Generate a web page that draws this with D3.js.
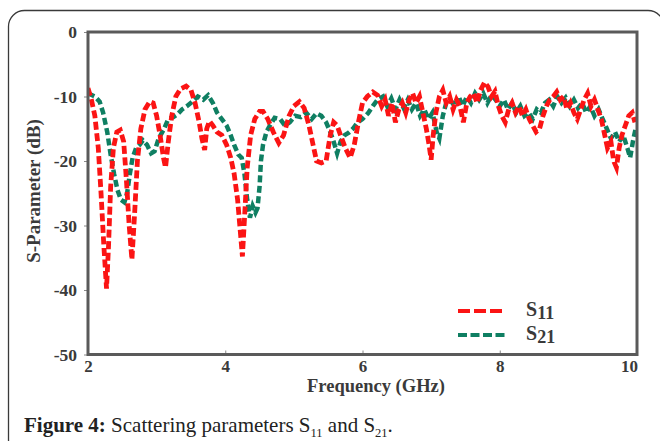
<!DOCTYPE html>
<html><head><meta charset="utf-8">
<script src="https://cdn.jsdelivr.net/npm/d3@7"></script>
<style>body{margin:0;background:#fff}svg{display:block}</style>
</head><body>
<svg id="c" width="660" height="441"></svg>
<script>
const xTicks = [2, 4, 6, 8, 10];
const yTicks = [0, -10, -20, -30, -40, -50];
const seriesNames = ["S11", "S21"];

const s11Freq = [2.00,2.05,2.10,2.15,2.19,2.23,2.27,2.30,2.33,2.37,2.42,2.47,2.52,2.56,2.60,2.64,2.68,2.72,2.77,2.83,2.90,2.95,3.00,3.05,3.10,3.13,3.17,3.22,3.28,3.35,3.43,3.50,3.56,3.62,3.66,3.70,3.73,3.77,3.82,3.88,3.95,4.02,4.08,4.13,4.18,4.22,4.25,4.28,4.32,4.37,4.43,4.50,4.55,4.62,4.70,4.78,4.85,4.93,5.00,5.08,5.15,5.22,5.28,5.33,5.40,5.47,5.53,5.58,5.63,5.68,5.75,5.82,5.88,5.94,6.00,6.07,6.15,6.22,6.28,6.33,6.38,6.43,6.48,6.53,6.58,6.63,6.68,6.73,6.78,6.83,6.88,6.93,6.97,7.00,7.03,7.07,7.12,7.17,7.22,7.27,7.32,7.37,7.42,7.47,7.52,7.57,7.62,7.67,7.72,7.78,7.83,7.88,7.93,7.98,8.03,8.08,8.13,8.18,8.23,8.28,8.33,8.38,8.43,8.48,8.53,8.58,8.63,8.68,8.73,8.78,8.83,8.88,8.93,8.98,9.03,9.08,9.13,9.18,9.23,9.28,9.33,9.38,9.43,9.48,9.53,9.57,9.62,9.66,9.70,9.74,9.78,9.83,9.88,9.93,9.97];
const s11Db = [-8.7,-10.5,-13,-18,-25,-33,-39.8,-33,-24,-18,-15.5,-15.2,-17,-23,-30,-35.3,-28,-20,-15,-12,-10.8,-11,-13,-16,-19.5,-21,-17,-13,-10,-8.8,-8.4,-9,-11,-14,-16.5,-18.3,-15,-13.8,-14.5,-15.5,-16,-17.5,-19.5,-22,-26,-31,-34.8,-29,-21,-16,-13.5,-12.3,-12.3,-13.5,-15.5,-17.2,-16,-13,-11.5,-10.8,-11.8,-14.5,-17.5,-20,-20.3,-20,-16,-14,-14.5,-16,-18,-19.5,-17.5,-14,-11,-10,-9.3,-9.8,-11.5,-10.5,-13,-11,-14,-12,-11,-12.5,-10.5,-9.5,-11,-10,-12.5,-15,-17.5,-19.8,-16,-12.5,-10,-9,-11,-10,-12,-10.5,-11.5,-14,-11,-10,-9.5,-11,-9,-7.8,-8.5,-10,-9.2,-11.5,-13,-14,-12,-11,-12.5,-11.5,-13,-12,-13.5,-14.5,-15.5,-15,-13,-11.5,-10.5,-10,-9.3,-10.5,-10,-12,-11,-12.5,-13.5,-12,-10.5,-9.5,-11.5,-10.5,-12,-13.5,-16,-18,-17,-20,-21,-18,-16,-14.5,-13,-12.5,-14];

const s21Freq = [2.00,2.10,2.17,2.22,2.28,2.33,2.38,2.43,2.48,2.53,2.57,2.61,2.65,2.70,2.75,2.80,2.86,2.92,2.97,3.03,3.10,3.17,3.24,3.30,3.37,3.44,3.52,3.60,3.68,3.75,3.82,3.88,3.95,4.02,4.08,4.13,4.19,4.24,4.28,4.32,4.36,4.40,4.44,4.47,4.50,4.52,4.55,4.60,4.65,4.72,4.80,4.87,4.94,5.02,5.10,5.18,5.26,5.33,5.40,5.47,5.53,5.58,5.63,5.68,5.74,5.80,5.86,5.93,6.00,6.08,6.15,6.22,6.30,6.36,6.42,6.48,6.54,6.60,6.66,6.72,6.78,6.84,6.90,6.96,7.02,7.08,7.12,7.17,7.22,7.28,7.34,7.40,7.46,7.52,7.58,7.64,7.70,7.76,7.82,7.88,7.94,8.00,8.06,8.12,8.18,8.24,8.30,8.36,8.42,8.48,8.54,8.60,8.66,8.72,8.78,8.84,8.90,8.96,9.02,9.08,9.14,9.20,9.26,9.32,9.38,9.44,9.50,9.56,9.62,9.68,9.74,9.80,9.86,9.90,9.94,9.98];
const s21Db = [-9.5,-10,-10.8,-12.5,-15.5,-19,-22,-24.5,-26,-26.4,-25,-22,-19.5,-18,-17.5,-16.8,-17.5,-18.8,-18.5,-16.5,-15.2,-13.5,-13.2,-12.8,-12,-11.5,-10.8,-10,-10.5,-9.8,-11,-12.5,-13.5,-14.5,-16,-17.5,-19,-19.5,-22,-26,-28.8,-27,-28,-27.3,-24,-20,-17.5,-15.5,-14.5,-13.3,-13.5,-14.5,-14,-13,-13.2,-12.5,-13.5,-12.6,-13,-14,-15.5,-17,-18.8,-17,-16,-15.6,-15,-14,-13.5,-12.6,-11.5,-10.5,-10,-11.5,-10.3,-12,-10.5,-11.8,-10.5,-12,-11,-13,-12,-13.5,-12.5,-15.5,-16.5,-13,-11,-10.5,-11.5,-10,-11.5,-10,-11,-9.5,-10.5,-9.5,-11,-9.8,-10.5,-11.5,-10.5,-12,-11,-12.5,-11.5,-13,-12.5,-13.5,-12,-12.5,-11,-10.5,-11.5,-10,-11,-10.2,-11.5,-10.5,-11.8,-11,-12.5,-11.5,-13,-12,-13.5,-15,-16.5,-15.5,-17,-16,-18,-19.5,-17,-15];

const RED = "#fb1414", GREEN = "#0f7f62";
const svg = d3.select("#c");

// outer rounded frame
svg.append("rect").attr("x", 8.5).attr("y", 10.5).attr("width", 655.5).attr("height", 445)
  .attr("rx", 16).attr("fill", "none").attr("stroke", "#3a3a3a").attr("stroke-width", 1.3);

const x = d3.scaleLinear().domain([2, 10]).range([88, 637]);
const y = d3.scaleLinear().domain([-50, 0]).range([354.5, 32]);

svg.append("defs").append("clipPath").attr("id", "clip").append("rect")
  .attr("x", 88).attr("y", 32).attr("width", 549).attr("height", 322.5);

const line = d3.line().x(d => x(d[0])).y(d => y(d[1]));
const s21 = s21Freq.map((f, i) => [f, s21Db[i]]);
const s11 = s11Freq.map((f, i) => [f, s11Db[i]]);

const g = svg.append("g").attr("clip-path", "url(#clip)");
g.append("path").datum(s21).attr("d", line).attr("fill", "none")
  .attr("stroke", GREEN).attr("stroke-width", 4.5).attr("stroke-dasharray", "7,3.5");
g.append("path").datum(s11).attr("d", line).attr("fill", "none")
  .attr("stroke", RED).attr("stroke-width", 4.8).attr("stroke-dasharray", "8,3.5");

// axes
const tickFont = "'Liberation Serif','Times New Roman',serif";
const ax = svg.append("g").attr("transform", "translate(0,354.5)")
  .call(d3.axisBottom(x).tickValues(xTicks).tickSize(-4).tickFormat(d3.format("d")).tickPadding(5));
const ay = svg.append("g").attr("transform", "translate(88,0)")
  .call(d3.axisLeft(y).tickValues(yTicks).tickSize(4).tickFormat(d => d === 0 ? "0" : "-" + Math.abs(d)).tickPadding(7));
[ax, ay].forEach(a => {
  a.select(".domain").remove();
  a.selectAll(".tick line").attr("stroke", "#888").attr("stroke-width", 1);
  a.selectAll(".tick text").attr("font-family", tickFont).attr("font-weight", "bold")
    .attr("font-size", 17.5).attr("fill", "#3a3a3a");
});
ax.selectAll(".tick text").attr("font-size", 17).filter(d => d === 10).attr("dx", -8);

// plot frame
svg.append("rect").attr("x", 88).attr("y", 32).attr("width", 549).attr("height", 322.5)
  .attr("fill", "none").attr("stroke", "#5a5a5a").attr("stroke-width", 3);

// axis titles
svg.append("text").attr("x", 376).attr("y", 392).attr("text-anchor", "middle")
  .attr("font-family", tickFont).attr("font-weight", "bold").attr("font-size", 18.5).attr("fill", "#3a3a3a")
  .text("Frequency (GHz)");
svg.append("text").attr("transform", "translate(40,191) rotate(-90)").attr("text-anchor", "middle")
  .attr("font-family", tickFont).attr("font-weight", "bold").attr("font-size", 19).attr("fill", "#3a3a3a")
  .text("S-Parameter (dB)");

// legend
const legend = svg.append("g");
[[seriesNames[0], RED, 311, "12,4"], [seriesNames[1], GREEN, 335, "9,3.5"]].forEach(([name, col, ly, dash]) => {
  legend.append("line").attr("x1", 458).attr("x2", 505).attr("y1", ly).attr("y2", ly)
    .attr("stroke", col).attr("stroke-width", 4).attr("stroke-dasharray", dash);
  const t = legend.append("text").attr("x", 526).attr("y", ly + 5)
    .attr("font-family", tickFont).attr("font-weight", "bold").attr("font-size", 20).attr("fill", "#3a3a3a");
  t.append("tspan").text(name[0]);
  t.append("tspan").attr("dy", 3).attr("font-size", 18).text(name.slice(1));
});

// caption
const cap = svg.append("text").attr("x", 24).attr("y", 432)
  .attr("font-family", tickFont).attr("font-size", 21).attr("fill", "#222");
cap.append("tspan").attr("font-weight", "bold").text("Figure 4:");
cap.append("tspan").text(" Scattering parameters S");
cap.append("tspan").attr("font-size", 12.5).attr("dy", 5).text("11");
cap.append("tspan").attr("dy", -5).text(" and S");
cap.append("tspan").attr("font-size", 12.5).attr("dy", 5).text("21");
cap.append("tspan").attr("dy", -5).text(".");
</script>
</body></html>
